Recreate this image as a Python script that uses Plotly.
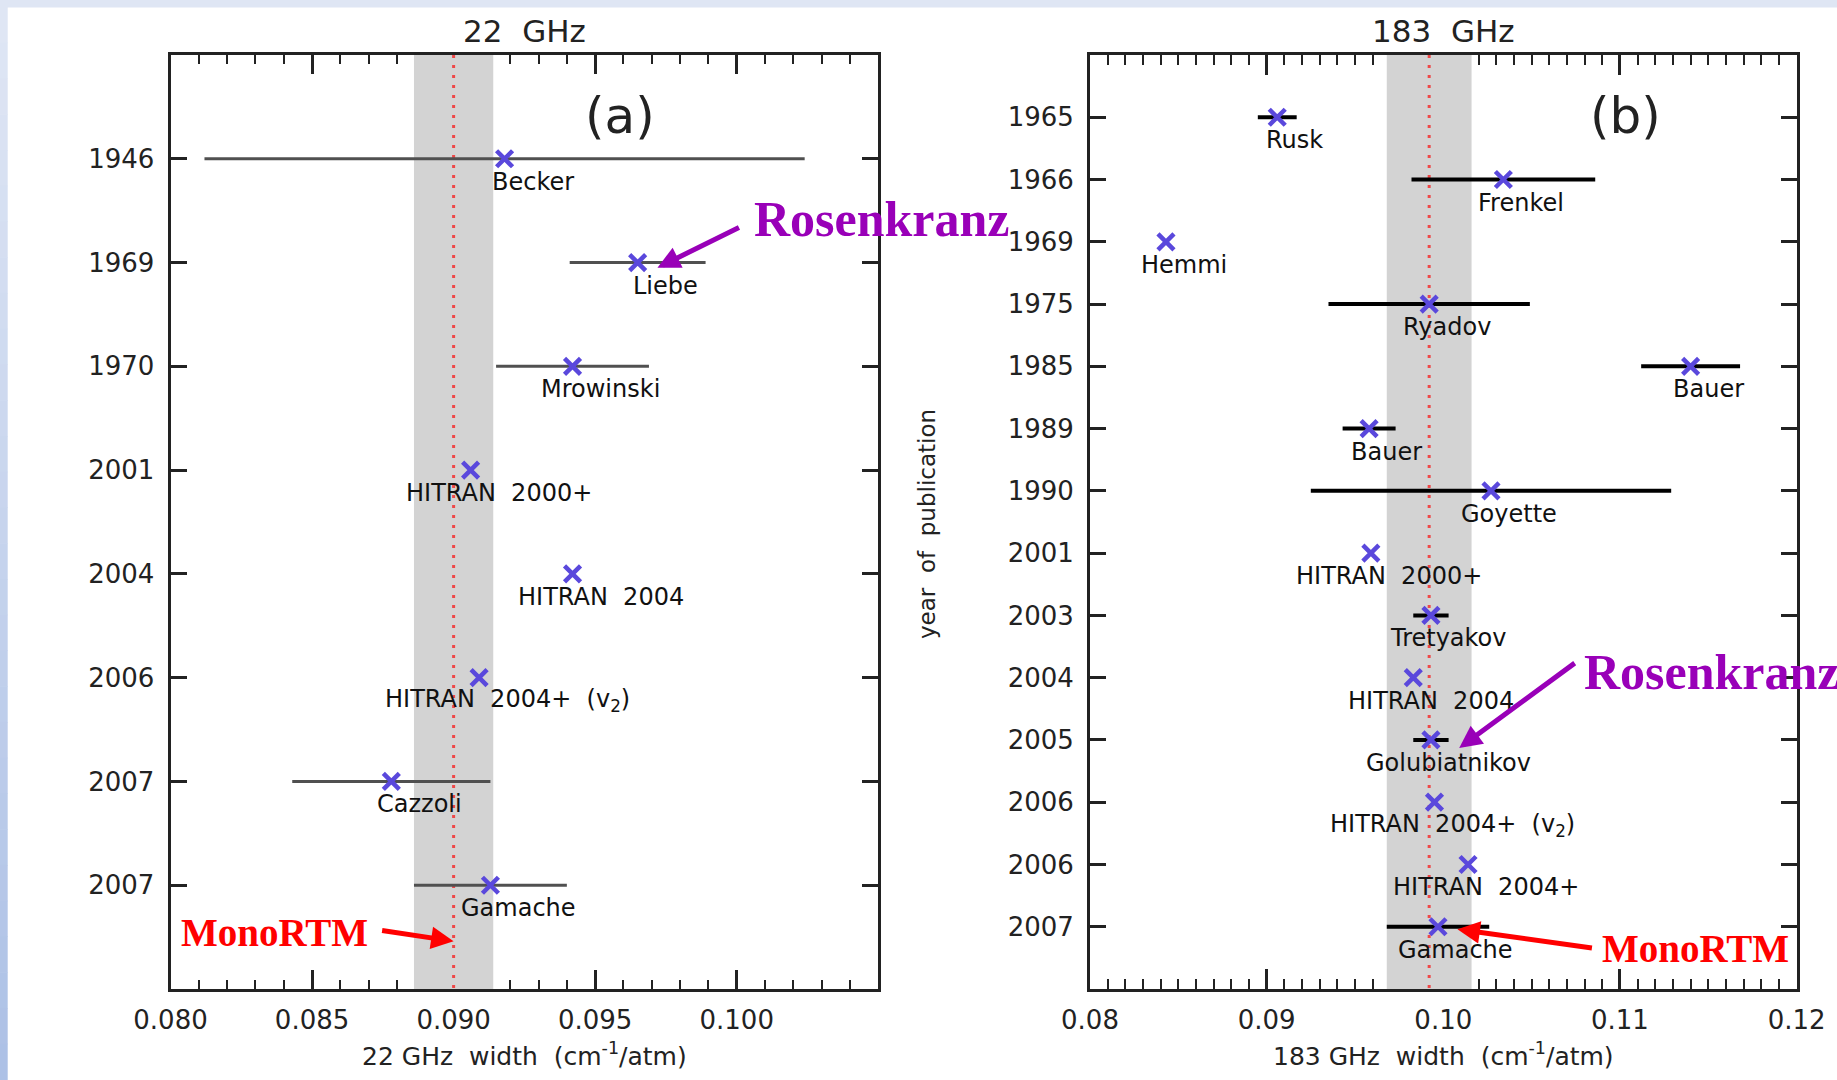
import plotly.graph_objects as go

# ---------------- data ----------------
# 22 GHz line: pressure-broadened width by publication
years_22 = ["1946", "1969", "1970", "2001", "2004", "2006", "2007", "2007"]
names_22 = ["Becker", "Liebe", "Mrowinski", "HITRAN\u00a0\u00a02000+", "HITRAN\u00a0\u00a02004",
            "HITRAN\u00a0\u00a02004+\u00a0\u00a0(v<sub>2</sub>)", "Cazzoli", "Gamache"]
width_22 = [0.0918, 0.0965, 0.0942, 0.0906, 0.0942, 0.0909, 0.0878, 0.0913]
err_22 = [0.0106, 0.0024, 0.0027, None, None, None, 0.0035, 0.0027]
monortm_22 = 0.0900
band_22 = [0.0886, 0.0914]

# 183 GHz line
years_183 = ["1965", "1966", "1969", "1975", "1985", "1989", "1990", "2001",
             "2003", "2004", "2005", "2006", "2006", "2007"]
names_183 = ["Rusk", "Frenkel", "Hemmi", "Ryadov", "Bauer", "Bauer", "Goyette",
             "HITRAN\u00a0\u00a02000+", "Tretyakov", "HITRAN\u00a0\u00a02004", "Golubiatnikov",
             "HITRAN\u00a0\u00a02004+\u00a0\u00a0(v<sub>2</sub>)", "HITRAN\u00a0\u00a02004+", "Gamache"]
width_183 = [0.0906, 0.1034, 0.0843, 0.0992, 0.1140, 0.0958, 0.1027, 0.0959,
             0.0993, 0.0983, 0.0993, 0.0995, 0.1014, 0.0997]
err_183 = [0.0011, 0.0052, None, 0.0057, 0.0028, 0.0015, 0.0102, None,
           0.0010, None, 0.0010, None, None, 0.0029]
monortm_183 = 0.0992
band_183 = [0.0968, 0.1016]

# ---------------- geometry / style ----------------
W, H = 1837, 1080
FONT = "DejaVu Sans"
MARK = "#5a48dc"
PURPLE = "#9900b8"
RED = "#ff0000"


def fx(p):
    return p / W


def fy(p):
    return 1 - p / H


fig = go.Figure()

panels = [
    dict(xa="x", ya="y", years=years_22, names=names_22, w=width_22, e=err_22,
         mono=monortm_22, band=band_22, barcolor="#505050", barw=3),
    dict(xa="x2", ya="y2", years=years_183, names=names_183, w=width_183, e=err_183,
         mono=monortm_183, band=band_183, barcolor="#000000", barw=4),
]

annotations = []
for p in panels:
    n = len(p["years"])
    pos = list(range(1, n + 1))
    top, bot = 0, n + 1
    lo, hi = p["band"]
    # uncertainty band of the model value
    fig.add_trace(go.Scatter(x=[lo, hi, hi, lo, lo], y=[top, top, bot, bot, top],
                             fill="toself", fillcolor="#d3d3d3", mode="lines",
                             line=dict(width=0), hoverinfo="skip", showlegend=False,
                             xaxis=p["xa"], yaxis=p["ya"]))
    # model value
    fig.add_trace(go.Scatter(x=[p["mono"], p["mono"]], y=[top, bot], mode="lines",
                             line=dict(color="#ee4848", width=3, dash="3px,7px"),
                             hoverinfo="skip", showlegend=False,
                             xaxis=p["xa"], yaxis=p["ya"]))
    # measurements
    fig.add_trace(go.Scatter(x=p["w"], y=pos, mode="markers",
                             marker=dict(symbol="x-thin", size=16,
                                         line=dict(width=4.5, color=MARK), color=MARK),
                             error_x=dict(type="data", array=p["e"], symmetric=True,
                                          width=0, thickness=p["barw"], color=p["barcolor"]),
                             showlegend=False, xaxis=p["xa"], yaxis=p["ya"]))
    for name, w, y in zip(p["names"], p["w"], pos):
        annotations.append(dict(x=w + 0.001, y=y, xref=p["xa"], yref=p["ya"], yshift=-23,
                                xanchor="center", yanchor="middle",
                                text=name, showarrow=False,
                                font=dict(family=FONT, size=24, color="#111")))

axis_common = dict(showline=True, linewidth=3, linecolor="#222", mirror="ticks",
                   ticks="inside", tickcolor="#222", showgrid=False, zeroline=False,
                   automargin=False, layer="below traces",
                   tickfont=dict(family=FONT, size=26, color="#222"))

xdom1 = [fx(170.5), fx(878)]
xdom2 = [fx(1090), fx(1796.6)]
ydom = [fy(989), fy(55)]

fig.update_layout(
    width=W, height=H,
    margin=dict(l=0, r=0, t=0, b=0, pad=0),
    paper_bgcolor="white", plot_bgcolor="white",
    showlegend=False,
    xaxis=dict(domain=xdom1, anchor="y", range=[0.080, 0.10499], tick0=0.080, dtick=0.005,
               tickformat=".3f", ticklen=19, tickwidth=2.5, ticklabelstandoff=6,
               minor=dict(dtick=0.001, ticks="inside", ticklen=9, tickwidth=2, tickcolor="#222"),
               **axis_common),
    yaxis=dict(domain=ydom, anchor="x", range=[len(years_22) + 1, 0],
               tickvals=list(range(1, len(years_22) + 1)), ticktext=years_22,
               ticklen=16, tickwidth=3, ticklabelstandoff=8, **axis_common),
    xaxis2=dict(domain=xdom2, anchor="y2", range=[0.08, 0.12], tick0=0.08, dtick=0.01,
                tickformat=".2f", ticklen=20, tickwidth=2.5, ticklabelstandoff=6,
                minor=dict(dtick=0.001, ticks="inside", ticklen=10, tickwidth=2, tickcolor="#222"),
                **axis_common),
    yaxis2=dict(domain=ydom, anchor="x2", range=[len(years_183) + 1, 0],
                tickvals=list(range(1, len(years_183) + 1)), ticktext=years_183,
                ticklen=16, tickwidth=3, ticklabelstandoff=8, **axis_common),
)


def paper_text(px, py, text, font, **kw):
    d = dict(x=fx(px), y=fy(py), xref="paper", yref="paper", text=text,
             showarrow=False, xanchor="center", yanchor="middle", font=font)
    d.update(kw)
    return d


# titles and axis labels
txt = dict(family=FONT, color="#222")
annotations += [
    paper_text(524, 31, "22\u00a0\u00a0GHz", dict(size=31, **txt)),
    paper_text(1443, 31, "183\u00a0\u00a0GHz", dict(size=31, **txt)),
    paper_text(524, 1054, "22\u00a0GHz\u00a0\u00a0width\u00a0\u00a0(cm<sup>-1</sup>/atm)",
               dict(size=25, **txt)),
    paper_text(1443, 1054, "183\u00a0GHz\u00a0\u00a0width\u00a0\u00a0(cm<sup>-1</sup>/atm)",
               dict(size=25, **txt)),
    paper_text(927, 524, "year\u00a0\u00a0of\u00a0\u00a0publication", dict(size=23, **txt),
               textangle=-90),
    paper_text(620, 116, "(a)", dict(size=50, **txt)),
    paper_text(1625, 116, "(b)", dict(size=50, **txt)),
]

# call-outs
serif_p = dict(family="Liberation Serif", size=50, color=PURPLE)
serif_r = dict(family="Liberation Serif", size=39, color=RED)
arrow = dict(text="", showarrow=True, arrowhead=2, arrowsize=0.9, arrowwidth=5)
annotations += [
    paper_text(881.5, 219, "<b>Rosenkranz</b>", serif_p),
    dict(x=width_22[1] + 0.0007, y=2.05, xref="x", yref="y", ax=83, ay=-41,
         arrowcolor=PURPLE, **arrow),
    paper_text(1582, 672, "<b>Rosenkranz</b>", serif_p, xanchor="left"),
    dict(x=width_183[10] + 0.0016, y=11.13, xref="x2", yref="y2", ax=117, ay=-86,
         arrowcolor=PURPLE, **arrow),
    paper_text(274.5, 932, "<b>MonoRTM</b>", serif_r),
    dict(x=monortm_22, y=8.54, xref="x", yref="y", ax=-73, ay=-11,
         arrowcolor=RED, **arrow),
    paper_text(1695.5, 948, "<b>MonoRTM</b>", serif_r),
    dict(x=width_183[13] + 0.0011, y=14.04, xref="x2", yref="y2", ax=136, ay=19,
         arrowcolor=RED, **arrow),
]
fig.update_layout(annotations=annotations)

# slide border: light strip on top, shaded strip on the left
shapes = [dict(type="rect", xref="paper", yref="paper", x0=0, x1=1, y0=fy(7.5), y1=1,
               fillcolor="#dfe6f4", line=dict(width=0), layer="below")]
nstrip = 30
c0 = (0xdf, 0xe6, 0xf4)
c1 = (0xad, 0xc1, 0xe6)
for i in range(nstrip):
    t = i / (nstrip - 1)
    col = "rgb({},{},{})".format(*[round(a + (b - a) * t) for a, b in zip(c0, c1)])
    y_top = 7.5 + (H - 7.5) * i / nstrip
    y_bot = 7.5 + (H - 7.5) * (i + 1) / nstrip
    shapes.append(dict(type="rect", xref="paper", yref="paper", x0=0, x1=fx(7.7),
                       y0=fy(y_bot), y1=fy(y_top) + 0.0005, fillcolor=col,
                       line=dict(width=0), layer="below"))
fig.update_layout(shapes=shapes)

fig.write_html("out.html")
